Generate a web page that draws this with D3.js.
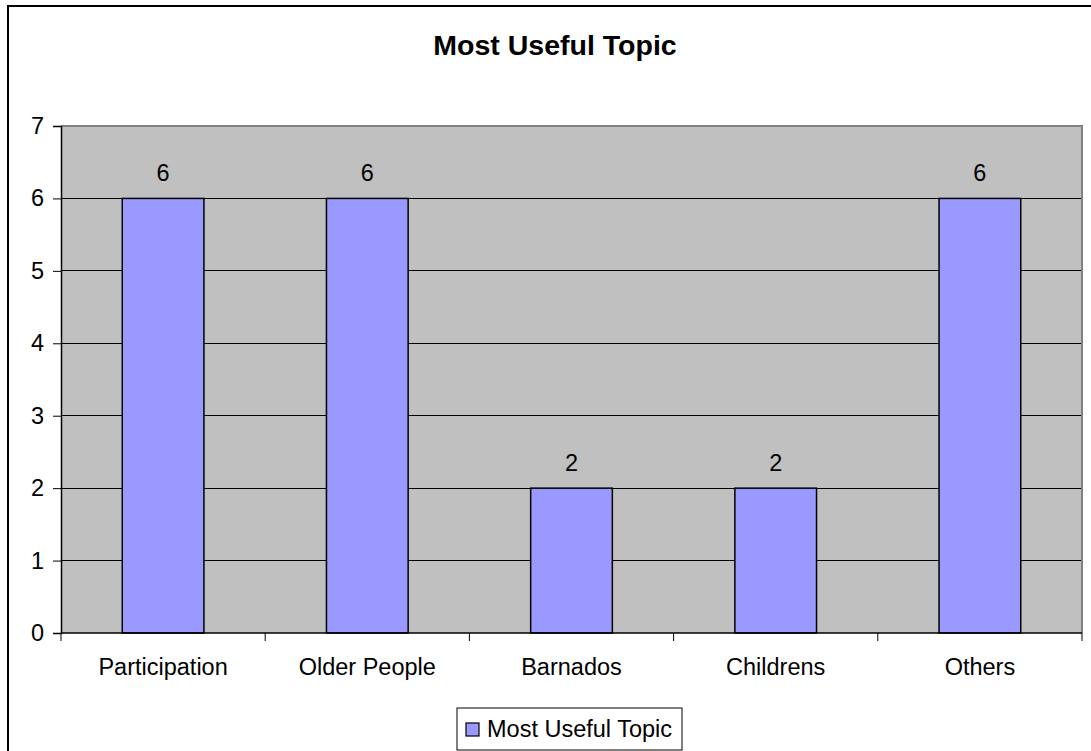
<!DOCTYPE html>
<html>
<head>
<meta charset="utf-8">
<script src="https://cdn.jsdelivr.net/npm/d3@7"></script>
<style>
  html, body { margin: 0; padding: 0; background: #fff; }
  svg { display: block; font-family: "Liberation Sans", Arial, sans-serif; }
</style>
</head>
<body>
<svg id="chart" width="1091" height="751"></svg>
<script>
// Chart data
const categories = ["Participation", "Older People", "Barnados", "Childrens", "Others"];
const values = [6, 6, 2, 2, 6];
const yTicks = [0, 1, 2, 3, 4, 5, 6, 7];
const seriesName = "Most Useful Topic";
const title = "Most Useful Topic";

const FONT = 23.5;
const svg = d3.select("#chart");
const plot = { left: 61, right: 1082, top: 126, bottom: 633 };

// Outer chart frame
svg.append("rect")
  .attr("x", 8).attr("y", 6)
  .attr("width", 1200).attr("height", 900)
  .attr("fill", "#fff").attr("stroke", "#000").attr("stroke-width", 2);

// Title
svg.append("text")
  .attr("x", 555).attr("y", 55)
  .attr("text-anchor", "middle")
  .attr("font-size", 28.5).attr("font-weight", "bold")
  .text(title);

const x = d3.scaleBand()
  .domain(categories)
  .range([plot.left, plot.right])
  .paddingInner(0.6)
  .paddingOuter(0.3);

const y = d3.scaleLinear()
  .domain([0, 7])
  .range([plot.bottom, plot.top]);

// Plot background
svg.append("rect")
  .attr("x", plot.left).attr("y", plot.top)
  .attr("width", plot.right - plot.left).attr("height", plot.bottom - plot.top)
  .attr("fill", "#c0c0c0");

// Gridlines
svg.append("g")
  .selectAll("line")
  .data(yTicks.filter(d => d > 0 && d < 7))
  .join("line")
  .attr("x1", plot.left).attr("x2", plot.right)
  .attr("y1", d => y(d)).attr("y2", d => y(d))
  .attr("stroke", "#000").attr("stroke-width", 1)
  .attr("shape-rendering", "crispEdges");

// Plot border (top and right)
svg.append("path")
  .attr("d", `M${plot.left},${plot.top}H${plot.right}V${plot.bottom}`)
  .attr("fill", "none").attr("stroke", "#808080").attr("stroke-width", 2);

// Bars
svg.append("g")
  .selectAll("rect")
  .data(categories)
  .join("rect")
  .attr("x", d => x(d))
  .attr("y", (d, i) => y(values[i]))
  .attr("width", x.bandwidth())
  .attr("height", (d, i) => y(0) - y(values[i]))
  .attr("fill", "#9999ff")
  .attr("stroke", "#000").attr("stroke-width", 1.5);

// Value labels
svg.append("g")
  .selectAll("text")
  .data(categories)
  .join("text")
  .attr("x", d => x(d) + x.bandwidth() / 2)
  .attr("y", (d, i) => y(values[i]) - 17)
  .attr("text-anchor", "middle")
  .attr("font-size", FONT)
  .text((d, i) => values[i]);

// Y axis
const yAxis = d3.axisLeft(y).tickValues(yTicks).tickSize(8).tickPadding(9).tickFormat(d3.format("d"));
const gy = svg.append("g").attr("transform", `translate(${plot.left},0)`).call(yAxis);
gy.select(".domain").attr("stroke", "#000").attr("stroke-width", 1.5);
gy.selectAll(".tick line").attr("stroke", "#000");
gy.selectAll(".tick text").attr("font-size", FONT).attr("font-family", "Liberation Sans, Arial, sans-serif").attr("fill", "#000");

// X axis baseline and category boundary ticks
const step = x.step();
const offset = (step - x.bandwidth()) / 2;
const bounds = categories.map(c => x(c) - offset).concat([x(categories[categories.length - 1]) - offset + step]);
svg.append("line")
  .attr("x1", plot.left).attr("x2", plot.right)
  .attr("y1", plot.bottom).attr("y2", plot.bottom)
  .attr("stroke", "#000").attr("stroke-width", 1.5);
svg.append("g")
  .selectAll("line")
  .data(bounds)
  .join("line")
  .attr("x1", d => d).attr("x2", d => d)
  .attr("y1", plot.bottom).attr("y2", plot.bottom + 8)
  .attr("stroke", "#000").attr("stroke-width", 1);

// Category labels
svg.append("g")
  .selectAll("text")
  .data(categories)
  .join("text")
  .attr("x", d => x(d) + x.bandwidth() / 2)
  .attr("y", 675)
  .attr("text-anchor", "middle")
  .attr("font-size", FONT)
  .text(d => d);

// Legend
const lg = svg.append("g");
lg.append("rect")
  .attr("x", 457).attr("y", 708).attr("width", 225).attr("height", 42)
  .attr("fill", "#fff").attr("stroke", "#000").attr("stroke-width", 1);
lg.append("rect")
  .attr("x", 466).attr("y", 723).attr("width", 13).attr("height", 13)
  .attr("fill", "#9999ff").attr("stroke", "#000").attr("stroke-width", 1.2);
lg.append("text")
  .attr("x", 487).attr("y", 737)
  .attr("font-size", FONT)
  .text(seriesName);
</script>
</body>
</html>
